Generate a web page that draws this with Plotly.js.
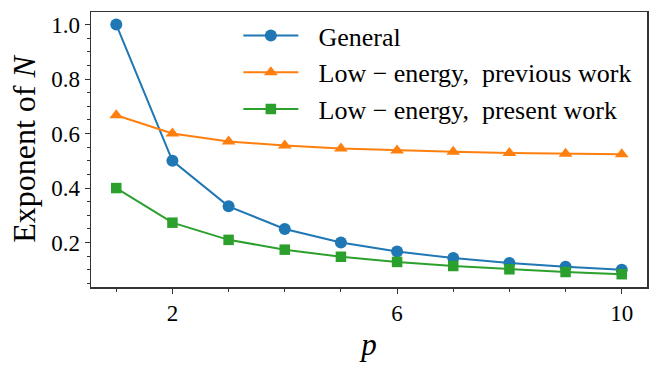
<!DOCTYPE html>
<html>
<head>
<meta charset="utf-8">
<script src="https://cdn.plot.ly/plotly-3.0.1.min.js"></script>
<style>
  html, body { margin: 0; padding: 0; background: white; }
  #chart { width: 665px; height: 369px; }
</style>
</head>
<body>
<div id="chart"></div>
<script>
// values
var pValues = [1, 2, 3, 4, 5, 6, 7, 8, 9, 10];
var generalExp = [1.0, 0.5, 0.333, 0.25, 0.2, 0.167, 0.143, 0.125, 0.111, 0.1];
var previousExp = [0.667, 0.6, 0.571, 0.556, 0.545, 0.538, 0.533, 0.529, 0.526, 0.524];
var presentExp = [0.4, 0.273, 0.21, 0.174, 0.148, 0.129, 0.114, 0.102, 0.092, 0.084];
var seriesNames = ["General", "Low \u2212 energy,  previous work", "Low \u2212 energy,  present work"];

var serif = '"Liberation Serif", "DejaVu Serif", serif';
var pad = "\u2002\u200A"; // small gap between legend line and text

var trace1 = {
    name: pad + seriesNames[0],
    x: pValues,
    y: generalExp,
    type: 'scatter',
    mode: 'lines+markers',
    line: {color: '#1f77b4', width: 2},
    marker: {symbol: 'circle', size: 12, color: '#1f77b4'}
};

var trace2 = {
    name: pad + seriesNames[1],
    x: pValues,
    y: previousExp,
    type: 'scatter',
    mode: 'lines+markers',
    line: {color: '#ff7f0e', width: 2},
    marker: {symbol: 'triangle-up', size: 12, color: '#ff7f0e'}
};

var trace3 = {
    name: pad + seriesNames[2],
    x: pValues,
    y: presentExp,
    type: 'scatter',
    mode: 'lines+markers',
    line: {color: '#2ca02c', width: 2},
    marker: {symbol: 'square', size: 10.5, color: '#2ca02c'}
};

var layout = {
    width: 665,
    height: 369,
    margin: {l: 91, r: 18, t: 12, b: 82},
    plot_bgcolor: 'white',
    paper_bgcolor: 'white',
    font: {family: serif, size: 23, color: 'black'},
    showlegend: true,
    legend: {
        x: 0.265, y: 1.0, xanchor: 'left', yanchor: 'top',
        bgcolor: 'rgba(0,0,0,0)',
        font: {family: serif, size: 26},
        tracegroupgap: 0,
        itemwidth: 55
    },
    xaxis: {
        range: [0.55, 10.45],
        tickvals: [2, 6, 10],
        ticks: 'outside', ticklen: 5, tickwidth: 1, tickcolor: '#333',
        minor: {tickvals: [1, 3, 4, 5, 7, 8, 9], ticks: 'outside', ticklen: 3, tickcolor: '#333'},
        showgrid: false, zeroline: false,
        showline: true, mirror: true, linecolor: '#333', linewidth: 1.5,
        tickfont: {family: serif, size: 23},
        title: {text: '<i>p</i>', font: {family: serif, size: 31}, standoff: 8}
    },
    yaxis: {
        range: [0.037, 1.046],
        tickvals: [0.2, 0.4, 0.6, 0.8, 1.0],
        tickformat: '.1f',
        ticks: 'outside', ticklen: 5, tickwidth: 1, tickcolor: '#333',
        minor: {dtick: 0.05, ticks: 'outside', ticklen: 3, tickcolor: '#333'},
        showgrid: false, zeroline: false,
        showline: true, mirror: true, linecolor: '#333', linewidth: 1.5,
        tickfont: {family: serif, size: 23},
        title: {text: 'Exponent of <i>N</i>', font: {family: serif, size: 32}, standoff: 6}
    }
};

var config = {displayModeBar: false, staticPlot: true};
Plotly.newPlot('chart', [trace1, trace2, trace3], layout, config);
</script>
</body>
</html>
